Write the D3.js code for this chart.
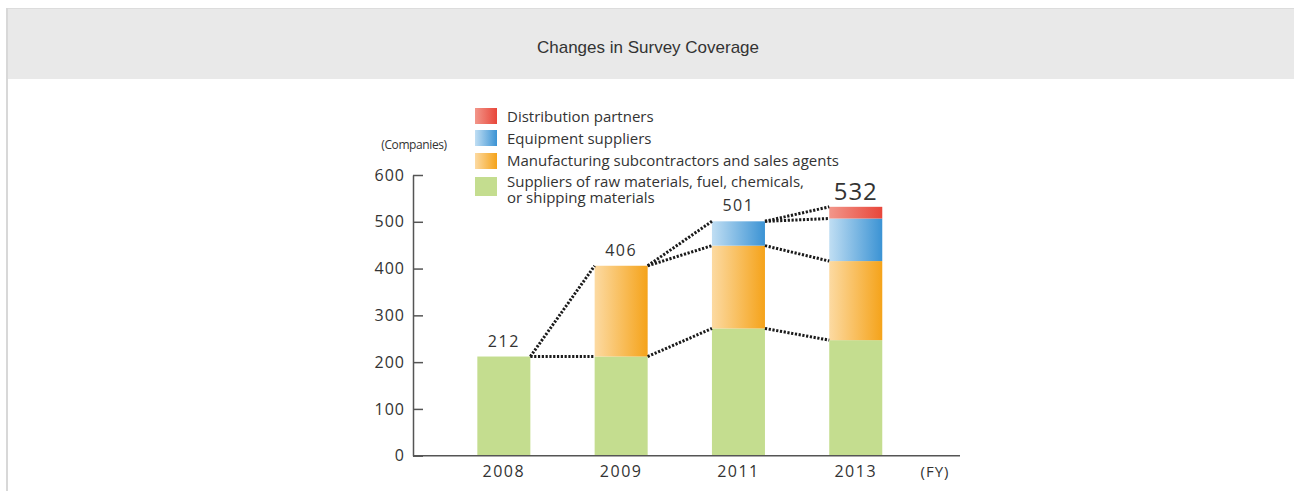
<!DOCTYPE html>
<html>
<head>
<meta charset="utf-8">
<script src="https://cdn.jsdelivr.net/npm/d3@7"></script>
<style>
  body { margin: 0; background: #fff; }
  svg text { font-family: "Open Sans", sans-serif; fill: #333; }
</style>
</head>
<body>
<div id="chart"></div>
<script>
// data
var years = ["2008", "2009", "2011", "2013"];
var rawMaterials = [212, 212, 272, 247];
var manufacturing = [0, 194, 177, 169];
var equipment = [0, 0, 52, 91];
var distribution = [0, 0, 0, 25];
var totals = [212, 406, 501, 532];
var yTicks = [0, 100, 200, 300, 400, 500, 600];
var seriesNames = ["Suppliers of raw materials, fuel, chemicals,|or shipping materials",
                   "Manufacturing subcontractors and sales agents",
                   "Equipment suppliers",
                   "Distribution partners"];

var W = 1294, H = 491;
var svg = d3.select("#chart").append("svg")
    .attr("width", W).attr("height", H);

// page frame + header band
svg.append("rect").attr("x", 7).attr("y", 8.5).attr("width", W).attr("height", 70.5)
  .attr("fill", "#e9e9e9");
svg.append("line").attr("x1", 7).attr("x2", W).attr("y1", 8.5).attr("y2", 8.5)
  .attr("stroke", "#dcdcdc").attr("stroke-width", 1);
svg.append("line").attr("x1", 7).attr("x2", 7).attr("y1", 8).attr("y2", H)
  .attr("stroke", "#d8d8d8").attr("stroke-width", 2);
svg.append("text").attr("x", 648).attr("y", 53).attr("text-anchor", "middle")
  .style("font-family", "'Liberation Sans', Arial, sans-serif").style("font-size", "17px")
  .text("Changes in Survey Coverage");

// scales
var axisX = 413, axisEnd = 960;
var x = d3.scaleBand().domain(years).range([445.2, 914.4])
  .paddingInner(0.548).paddingOuter(0.274);
var y = d3.scaleLinear().domain([0, 600]).range([455.7, 175]);

// gradients
var defs = svg.append("defs");
function grad(id, c0, c1) {
  var g = defs.append("linearGradient").attr("id", id)
    .attr("x1", "0%").attr("x2", "100%").attr("y1", "0%").attr("y2", "0%");
  g.append("stop").attr("offset", "0%").attr("stop-color", c0);
  g.append("stop").attr("offset", "100%").attr("stop-color", c1);
}
grad("gOrange", "#fcdaa2", "#f5a31a");
grad("gBlue", "#c0def3", "#3b93d4");
grad("gRed", "#f2968a", "#e8463a");
var fills = ["#c4dd8f", "url(#gOrange)", "url(#gBlue)", "url(#gRed)"];

// stack
var rows = years.map(function(yr, i) {
  return { year: yr, raw: rawMaterials[i], mfg: manufacturing[i], equip: equipment[i], dist: distribution[i] };
});
var keys = ["raw", "mfg", "equip", "dist"];
var stacked = d3.stack().keys(keys)(rows);

svg.append("g").selectAll("g")
  .data(stacked).enter().append("g")
    .attr("fill", function(d, i) { return fills[i]; })
  .selectAll("rect")
  .data(function(d) { return d.filter(function(p) { return p[1] > p[0]; }); })
  .enter().append("rect")
    .attr("x", function(d) { return x(d.data.year); })
    .attr("y", function(d) { return y(d[1]); })
    .attr("width", x.bandwidth())
    .attr("height", function(d) { return y(d[0]) - y(d[1]); });

// dotted connectors between segment tops
var conn = svg.append("g").attr("stroke", "#1a1a1a").attr("stroke-width", 3)
  .attr("stroke-dasharray", "2.2 1.6").attr("fill", "none");
stacked.forEach(function(layer, k) {
  for (var i = 0; i < years.length - 1; i++) {
    if (layer[i + 1][1] > layer[i + 1][0]) {
      conn.append("line")
        .attr("x1", x(years[i]) + x.bandwidth())
        .attr("y1", y(layer[i][1]))
        .attr("x2", x(years[i + 1]))
        .attr("y2", y(layer[i + 1][1]));
    }
  }
});

// totals
svg.append("g").selectAll("text")
  .data(totals).enter().append("text")
    .attr("x", function(d, i) { return x(years[i]) + x.bandwidth() / 2; })
    .attr("y", function(d, i) { return y(d) - (i == 3 ? 7 : 10); })
    .attr("text-anchor", "middle")
    .style("font-size", function(d, i) { return i == 3 ? "24px" : "16px"; })
    .style("letter-spacing", function(d, i) { return i == 3 ? "1px" : "1.5px"; })
    .text(function(d) { return d; });

// y axis (ticks point inward)
var yAxis = svg.append("g").attr("transform", "translate(" + axisX + ",0)")
  .call(d3.axisLeft(y).tickValues(yTicks).tickSizeInner(-10).tickSizeOuter(0).tickPadding(8));
yAxis.selectAll("text").style("font-size", "16px").style("letter-spacing", "1px")
  .style("font-family", "'Open Sans', sans-serif").attr("fill", "#333");
yAxis.selectAll("line").attr("stroke", "#555").attr("stroke-width", 1.5);
yAxis.select(".domain").attr("stroke", "#555").attr("stroke-width", 1.5);

// x axis
svg.append("line").attr("x1", axisX).attr("x2", axisEnd).attr("y1", y(0)).attr("y2", y(0))
  .attr("stroke", "#555").attr("stroke-width", 1.5);
var xAxis = svg.append("g").attr("transform", "translate(0," + y(0) + ")")
  .call(d3.axisBottom(x).tickSize(0).tickPadding(10));
xAxis.select(".domain").remove();
xAxis.selectAll("text").style("font-size", "16px").style("letter-spacing", "1.5px")
  .style("font-family", "'Open Sans', sans-serif").attr("fill", "#333");
svg.append("text").attr("x", 935).attr("y", 477).attr("text-anchor", "middle")
  .style("font-size", "15px").style("letter-spacing", "1px").text("(FY)");

svg.append("text").attr("x", 414).attr("y", 149).attr("text-anchor", "middle")
  .style("font-size", "12px").style("letter-spacing", "-0.4px").text("(Companies)");

// legend, top entry first
var legendY = [108, 130, 153, 177];
var legendTextY = [122, 144, 166, 187];
var legend = svg.append("g");
[3, 2, 1, 0].forEach(function(k, row) {
  legend.append("rect").attr("x", 475).attr("y", legendY[row])
    .attr("width", 22).attr("height", k == 0 ? 19 : 16).attr("fill", fills[k]);
  var lines = seriesNames[k].split("|");
  lines.forEach(function(t, j) {
    legend.append("text").attr("x", 507).attr("y", legendTextY[row] + j * 16)
      .style("font-size", "15px").text(t);
  });
});
</script>
</body>
</html>
